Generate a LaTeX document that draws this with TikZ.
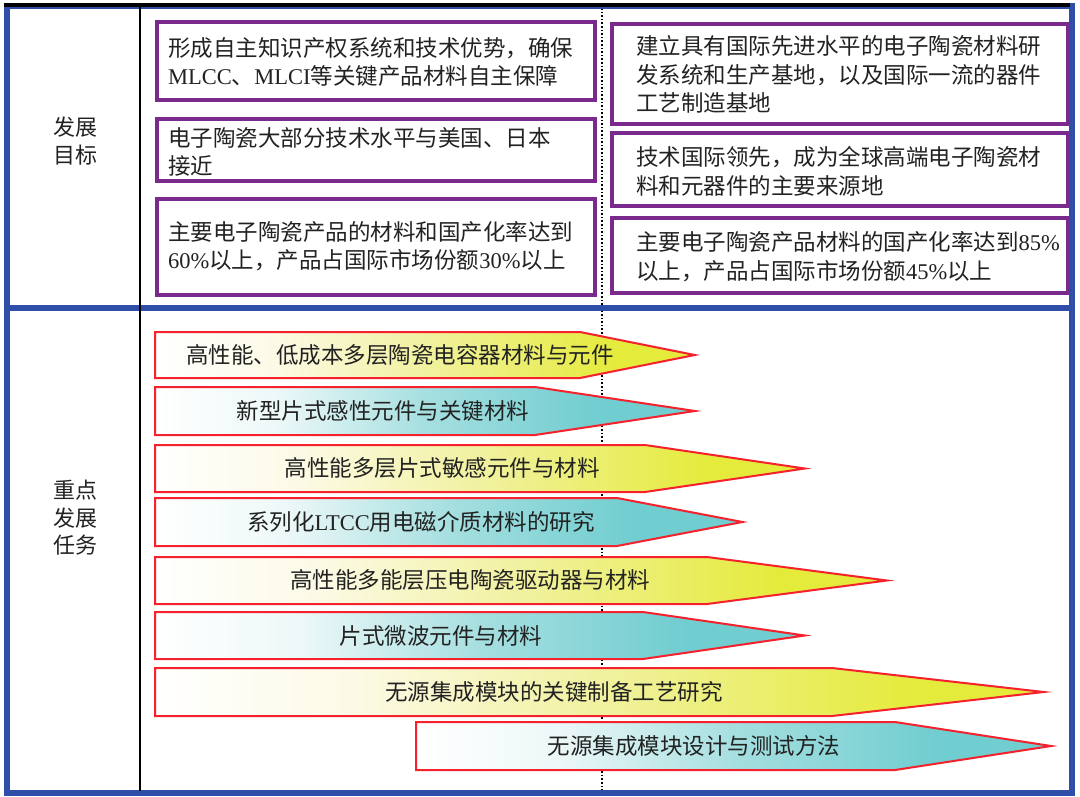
\documentclass[tikz,border=0pt]{standalone}
\usepackage{fontspec}
\newfontfamily\cjk{Noto Sans CJK SC}
\newfontfamily\latf{Liberation Serif}
\definecolor{frameblue}{HTML}{2F4EA8}
\definecolor{boxpurple}{HTML}{7A2A8C}
\definecolor{arrowred}{HTML}{F5222D}
\definecolor{txtc}{HTML}{222222}
\definecolor{yA}{HTML}{FCFAE6}
\definecolor{yB}{HTML}{F1F1A0}
\definecolor{yC}{HTML}{E5EB3A}
\definecolor{tA}{HTML}{EEF8F8}
\definecolor{tB}{HTML}{A6DFE0}
\definecolor{tC}{HTML}{70CDD0}
\pgfdeclarehorizontalshading{yellowsh}{100bp}{color(0bp)=(white); color(25bp)=(white); color(36bp)=(yA); color(50bp)=(yB); color(68bp)=(yC); color(100bp)=(yC)}
\pgfdeclarehorizontalshading{tealsh}{100bp}{color(0bp)=(white); color(25bp)=(white); color(36bp)=(tA); color(50bp)=(tB); color(66bp)=(tC); color(100bp)=(tC)}
\tikzset{
  goalbox/.style={draw=boxpurple, line width=4pt, fill=white},
  goaltxt/.style={font=\cjk\fontsize{22.5}{28.5}\selectfont, text=txtc, inner sep=0pt, align=left, anchor=west},
  sidetxt/.style={font=\cjk\fontsize{22}{27.5}\selectfont, text=txtc, inner sep=0pt, align=center},
  tasktxt/.style={font=\cjk\fontsize{22.5}{27}\selectfont, text=txtc, inner sep=0pt},
  arrowline/.style={draw=arrowred, line width=2pt, line join=miter},
}
\newcommand\taskarrow[6]{%
  \pgfmathsetmacro\hh{(#3-#2)/2}%
  \pgfmathsetmacro\LL{#5-#4}%
  \pgfmathsetmacro\tipx{#5-sqrt((\LL/10)*(\LL/10)+(\hh/10)*(\hh/10))*10/\hh}%
  \shadedraw[shading=#6, arrowline] (#1,#2) -- (#4,#2) -- (\tipx,{(#2+#3)/2}) -- (#4,#3) -- (#1,#3) -- cycle;}
\begin{document}
\begin{tikzpicture}[x=1pt,y=-1pt]
\useasboundingbox (0,0) rectangle (1080,796);
\fill[white] (0,0) rectangle (1080,796);
% dotted divider
\draw[black, line width=1.6pt, dotted] (602,8) -- (602,790);
% frame
\draw[frameblue, line width=6pt] (7,6) rectangle (1072,793);
\draw[frameblue, line width=6pt] (7,308) -- (1072,308);
\draw[black, line width=4pt] (4,5) -- (1070,5);
\draw[black, line width=2.5pt] (140,7) -- (140,791);
% side labels
\node[sidetxt] (lab1) at (75,141) {发展\\目标};
\node[sidetxt] (lab2) at (75,518) {重点\\发展\\任务};
% goal boxes left
\draw[goalbox] (157,22) rectangle (595,100);
\node[goaltxt] (g1) at (168,62) {形成自主知识产权系统和技术优势，确保\\{\latf MLCC}、{\latf MLCI}等关键产品材料自主保障};
\draw[goalbox] (157,119) rectangle (595,181);
\node[goaltxt] (g2) at (168,152) {电子陶瓷大部分技术水平与美国、日本\\接近};
\draw[goalbox] (157,199) rectangle (595,295);
\node[goaltxt] (g3) at (168,246) {主要电子陶瓷产品的材料和国产化率达到\\{\latf 60\%}以上，产品占国际市场份额{\latf 30\%}以上};
% goal boxes right
\draw[goalbox] (612,24) rectangle (1068,124);
\node[goaltxt] (g4) at (636,74.5) {建立具有国际先进水平的电子陶瓷材料研\\发系统和生产基地，以及国际一流的器件\\工艺制造基地};
\draw[goalbox] (612,133) rectangle (1068,206);
\node[goaltxt] (g5) at (636,171.5) {技术国际领先，成为全球高端电子陶瓷材\\料和元器件的主要来源地};
\draw[goalbox] (612,218) rectangle (1068,293);
\node[goaltxt] (g6) at (636,256.5) {主要电子陶瓷产品材料的国产化率达到{\latf 85\%}\\以上，产品占国际市场份额{\latf 45\%}以上};
% task arrows
\taskarrow{155}{332}{378}{580}{700}{yellowsh}
\node[tasktxt] (t1) at (400,355) {高性能、低成本多层陶瓷电容器材料与元件};
\taskarrow{155}{387}{435}{535}{702}{tealsh}
\node[tasktxt] (t2) at (383,411) {新型片式感性元件与关键材料};
\taskarrow{155}{445}{492}{645}{812}{yellowsh}
\node[tasktxt] (t3) at (442,468) {高性能多层片式敏感元件与材料};
\taskarrow{155}{498}{546}{617}{748}{tealsh}
\node[tasktxt] (t4) at (421,522) {系列化{\latf LTCC}用电磁介质材料的研究};
\taskarrow{155}{557}{604}{707}{895}{yellowsh}
\node[tasktxt] (t5) at (470,580) {高性能多能层压电陶瓷驱动器与材料};
\taskarrow{155}{612}{659}{643}{812}{tealsh}
\node[tasktxt] (t6) at (441,636) {片式微波元件与材料};
\taskarrow{155}{668}{716}{832}{1053}{yellowsh}
\node[tasktxt] (t7) at (554,692) {无源集成模块的关键制备工艺研究};
\taskarrow{416}{722}{770}{895}{1058}{tealsh}
\node[tasktxt] (t8) at (694,746) {无源集成模块设计与测试方法};
\end{tikzpicture}
\end{document}
